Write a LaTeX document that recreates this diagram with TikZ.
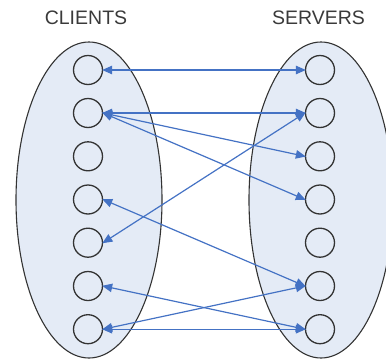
\documentclass[tikz,border=0pt]{standalone}
\usepackage{fontspec}
\setmainfont{Liberation Sans}
\usetikzlibrary{arrows.meta}
\definecolor{setfill}{HTML}{E4EBF6}
\definecolor{edgegray}{HTML}{333333}
\definecolor{linkblue}{HTML}{4472C4}
\definecolor{labelgray}{HTML}{3A3A3A}
\tikzset{
  group/.style={draw=edgegray, line width=1.1pt, fill=setfill},
  host/.style={circle, draw=edgegray, line width=1.3pt, fill=setfill, minimum size=29pt, inner sep=0pt},
  title/.style={font=\fontsize{19.5}{22}\selectfont, text=labelgray, inner sep=0pt},
  link/.style={draw=linkblue, line width=1.2pt, {Triangle[length=10pt,width=8.5pt]}-{Triangle[length=10pt,width=8.5pt]}, shorten <=-1pt, shorten >=-1pt}
}
\begin{document}
\begin{tikzpicture}[x=1pt,y=-1pt]
  \useasboundingbox (0,0) rectangle (386,362);
  \clip (0,0) rectangle (386,362);
  % the two sets
  \draw[group] (89,200) ellipse [x radius=73, y radius=158];
  \draw[group] (321,200) ellipse [x radius=72, y radius=158];
  % headings
  \node[title] (tc) at (86,17.4) {CLIENTS};
  \node[title] (ts) at (318.5,17.4) {SERVERS};
  % clients and servers
  \foreach \i/\y in {1/70,2/113,3/156.3,4/199.5,5/242.7,6/286,7/329.2} {
    \node[host] (c\i) at (88,\y) {};
    \node[host] (s\i) at (320,\y) {};
  }
  % connections
  \draw[link] (c1.east) -- (s1.west);
  \draw[link] (c2.east) -- (s2.west);
  \draw[link] (c2.east) -- (s3.west);
  \draw[link] (c2.east) -- (s4.west);
  \draw[link] (c5.east) -- (s2.west);
  \draw[link] (c4.east) -- (s6.west);
  \draw[link] (c6.east) -- (s7.west);
  \draw[link] (c7.east) -- (s6.west);
  \draw[link] (c7.east) -- (s7.west);
\end{tikzpicture}
\end{document}
